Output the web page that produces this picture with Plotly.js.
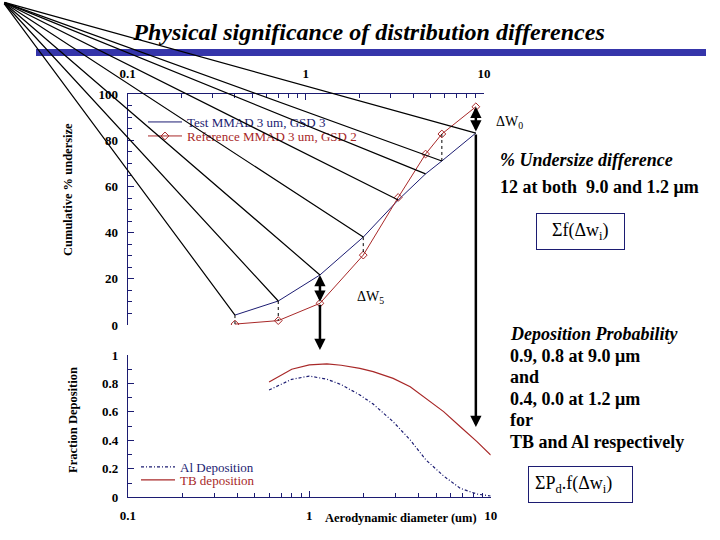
<!DOCTYPE html>
<html>
<head>
<meta charset="utf-8">
<script src="https://cdn.plot.ly/plotly-3.0.1.min.js"></script>
<style>
  html, body { margin: 0; padding: 0; background: #fff; }
  #chart { width: 720px; height: 540px; }
</style>
</head>
<body>
<div id="chart"></div>
<script>
/* cumulative undersize vs. deposition: impactor stages against lung deposition curves */

// impactor stage cut sizes (um) and cumulative % undersize
const stageSizes = [0.4, 0.7, 1.2, 2.1, 3.3, 4.7, 5.8, 9.0];
const testUndersize = [4.3, 10.4, 21.7, 38.1, 54.2, 65.5, 71.1, 83.2];
const refUndersize = [0.4, 1.9, 9.4, 30.3, 55.3, 74.1, 82.8, 94.6];
const diffStages = [0, 1, 3, 6];          // stages with a dotted difference line
const arrowStages = [2, 7];               // 1.2 um (dW5) and 9.0 um (dW0)

// deposition probability vs aerodynamic diameter (um)
const depSizes = [0.6, 0.7, 0.8, 1.0, 1.25, 1.5, 1.9, 2.25, 2.9, 3.6, 4.4, 5.5, 6.8, 8.4, 10];
const tbDeposition = [0.81, 0.86, 0.90, 0.93, 0.937, 0.928, 0.906, 0.883, 0.836, 0.777,
  0.696, 0.602, 0.496, 0.391, 0.297];
const aiDeposition = [0.754, 0.794, 0.829, 0.852, 0.83, 0.792, 0.719, 0.655, 0.531, 0.403,
  0.262, 0.15, 0.063, 0.023, 0.009];

const depositionNotes = [
  '<b><i>Deposition Probability</i></b>',
  '<b>0.9, 0.8 at 9.0 μm</b>',
  '<b>and</b>',
  '<b>0.4, 0.0 at 1.2 μm</b>',
  '<b>for</b>',
  '<b>TB and Al respectively</b>',
];

const SERIF = '"Liberation Serif", "Times New Roman", serif';
const NAVY = '#1c1c72';
const RED = '#a82828';
const W = 720, H = 540;

// page helpers (pixels -> paper fractions)
const px = v => v / W;
const py = v => 1 - v / H;

// fan vanishing point, in top-axis units (log10 x, % undersize)
const FAN_ORIGIN = { ax: -1.7, ay: 140 };
// where the drop arrows end, in top-axis % units
const DROP_TIPS = [-10.8, -44.2];

/* ── traces ─────────────────────────────────────────────────────────────── */
const dotX = [], dotY = [];
diffStages.forEach(i => {
  dotX.push(stageSizes[i], stageSizes[i], null);
  dotY.push(testUndersize[i], refUndersize[i], null);
});

const traces = [
  {
    type: 'scatter', mode: 'lines', x: stageSizes, y: testUndersize,
    name: `<span style="color:${NAVY}">Test MMAD 3 um, GSD 3</span>`,
    line: { color: NAVY, width: 1 }, legend: 'legend',
  },
  {
    type: 'scatter', mode: 'lines+markers', x: stageSizes, y: refUndersize,
    name: `<span style="color:${RED}">Reference MMAD 3 um, GSD 2</span>`,
    line: { color: RED, width: 1 },
    marker: { symbol: 'diamond-open', size: 6, color: RED, line: { width: 1 } },
    legend: 'legend3',
  },
  {
    type: 'scatter', mode: 'lines', x: dotX, y: dotY, showlegend: false,
    line: { color: '#000', width: 1, dash: 'dot' },
  },
  {
    type: 'scatter', mode: 'lines', x: depSizes, y: aiDeposition, xaxis: 'x2', yaxis: 'y2',
    name: `<span style="color:${NAVY}">Al Deposition</span>`,
    line: { color: NAVY, width: 1.2, dash: '3px,2px,1px,2px' }, legend: 'legend2',
  },
  {
    type: 'scatter', mode: 'lines', x: depSizes, y: tbDeposition, xaxis: 'x2', yaxis: 'y2',
    name: `<span style="color:${RED}">TB deposition</span>`,
    line: { color: RED, width: 1.2 }, legend: 'legend4',
  },
];

/* ── annotations ────────────────────────────────────────────────────────── */
const annotations = [];

// fan of lines from the vanishing point to each test-distribution point
stageSizes.forEach((d, i) => {
  annotations.push({
    xref: 'x', yref: 'y', axref: 'x', ayref: 'y',
    x: Math.log10(d), y: testUndersize[i], ax: FAN_ORIGIN.ax, ay: FAN_ORIGIN.ay,
    text: '', showarrow: true, arrowhead: 0, arrowwidth: 1.2, arrowcolor: '#000',
  });
});

// double arrows (difference) and long drop arrows into the deposition plot
arrowStages.forEach((i, k) => {
  const lx = Math.log10(stageSizes[i]);
  const top = Math.max(testUndersize[i], refUndersize[i]);
  const low = Math.min(testUndersize[i], refUndersize[i]);
  annotations.push({
    xref: 'x', yref: 'y', axref: 'x', ayref: 'y',
    x: lx, y: top, ax: lx, ay: low, text: '', showarrow: true,
    arrowhead: 2, arrowside: 'end+start', arrowsize: 0.9, arrowwidth: 2.5, arrowcolor: '#000',
  });
  annotations.push({
    xref: 'x', yref: 'y', axref: 'x', ayref: 'y',
    x: lx, y: DROP_TIPS[k], ax: lx, ay: low, text: '', showarrow: true,
    arrowhead: 2, arrowsize: 0.9, arrowwidth: 2.5, arrowcolor: '#000',
  });
});

function note(x, y, text, extra) {
  annotations.push(Object.assign({
    xref: 'paper', yref: 'paper', x: px(x), y: py(y), text: text, showarrow: false,
    xanchor: 'left', yanchor: 'middle',
    font: { family: SERIF, size: 18, color: '#000' },
  }, extra || {}));
}

const deltaFont = { family: SERIF, size: 14, color: '#000' };
note(494, 123, 'ΔW<sub>0</sub>', { font: deltaFont });
note(355, 297, 'ΔW<sub>5</sub>', { font: deltaFont });
note(498, 160, '<b><i>% Undersize difference</i></b>');
note(498, 187, '<b>12 at both&nbsp; 9.0 and 1.2 μm</b>');
depositionNotes.forEach((t, i) => note(508, 334 + i * 21.6, t));

note(580.5, 232, '&nbsp;&nbsp;Σf(Δw<sub>i</sub>)&nbsp;&nbsp;', {
  xanchor: 'center', bordercolor: NAVY, borderwidth: 1, borderpad: 6,
});
note(580.5, 484.5, 'ΣP<sub>d</sub>.f(Δw<sub>i</sub>)&nbsp;&nbsp;&nbsp;', {
  xanchor: 'center', bordercolor: NAVY, borderwidth: 1, borderpad: 6,
});

const axisTitleFont = { family: SERIF, size: 12.5, color: '#000', weight: 'bold' };
note(68, 190, 'Cumulative % undersize', { xanchor: 'center', textangle: -90, font: axisTitleFont });
note(73, 420, 'Fraction Deposition', { xanchor: 'center', textangle: -90, font: axisTitleFont });
note(401, 518, 'Aerodynamic diameter (um)', { xanchor: 'center', font: axisTitleFont });

/* ── layout ─────────────────────────────────────────────────────────────── */
const tickFont = { family: SERIF, size: 13, color: '#000', weight: 'bold' };
const axisBase = {
  showgrid: false, zeroline: false, showline: true, linecolor: NAVY, linewidth: 1,
  ticks: 'inside', tickcolor: NAVY, ticklen: 6, tickfont: tickFont,
  automargin: false, fixedrange: true,
};
const logAxis = Object.assign({}, axisBase, {
  type: 'log', range: [-1, 1], dtick: 1,
  minor: { ticks: 'inside', ticklen: 4, tickcolor: NAVY, dtick: 'D1' },
});

// one legend per entry so each can sit exactly where the original puts it
function legendAt(x, y) {
  return {
    x: px(x), y: py(y), xanchor: 'left', yanchor: 'middle', bgcolor: 'rgba(0,0,0,0)',
    font: { family: SERIF, size: 13 }, itemwidth: 34,
  };
}

const layout = {
  width: W, height: H, autosize: false,
  margin: { l: 0, r: 0, t: 0, b: 0 },
  paper_bgcolor: '#fff', plot_bgcolor: 'rgba(0,0,0,0)',
  font: { family: SERIF, color: '#000' },
  title: {
    text: 'Physical significance of distribution differences',
    x: px(369), y: py(32), xref: 'paper', yref: 'paper', xanchor: 'center', yanchor: 'middle',
    font: { family: SERIF, size: 24, color: '#000', weight: 'bold', style: 'italic' },
  },
  xaxis: Object.assign({}, logAxis, {
    domain: [px(127.7), px(484)], anchor: 'y', side: 'top', ticklabelstandoff: 10,
  }),
  yaxis: Object.assign({}, axisBase, {
    domain: [py(325), py(94.3)], anchor: 'x', range: [0, 100], dtick: 20,
    ticklabelstandoff: 6,
    minor: { ticks: 'inside', ticklen: 4, tickcolor: NAVY, dtick: 5 },
  }),
  xaxis2: Object.assign({}, logAxis, {
    domain: [px(127.9), px(490.7)], anchor: 'y2', ticklabelstandoff: 6,
  }),
  yaxis2: Object.assign({}, axisBase, {
    domain: [py(497.3), py(355)], anchor: 'x2', range: [0, 1], dtick: 0.2,
    ticklabelstandoff: 6,
    minor: { ticks: 'inside', ticklen: 4, tickcolor: NAVY, dtick: 0.1 },
  }),
  legend: legendAt(143, 122),
  legend3: legendAt(143, 136),
  legend2: legendAt(136, 467),
  legend4: legendAt(136, 480),
  shapes: [{
    type: 'rect', xref: 'paper', yref: 'paper', layer: 'below',
    x0: px(36), x1: px(706), y0: py(56), y1: py(49),
    fillcolor: '#3535aa', line: { width: 0 },
  }],
  annotations: annotations,
};

Plotly.newPlot('chart', traces, layout, { displayModeBar: false, staticPlot: true });
</script>
</body>
</html>
